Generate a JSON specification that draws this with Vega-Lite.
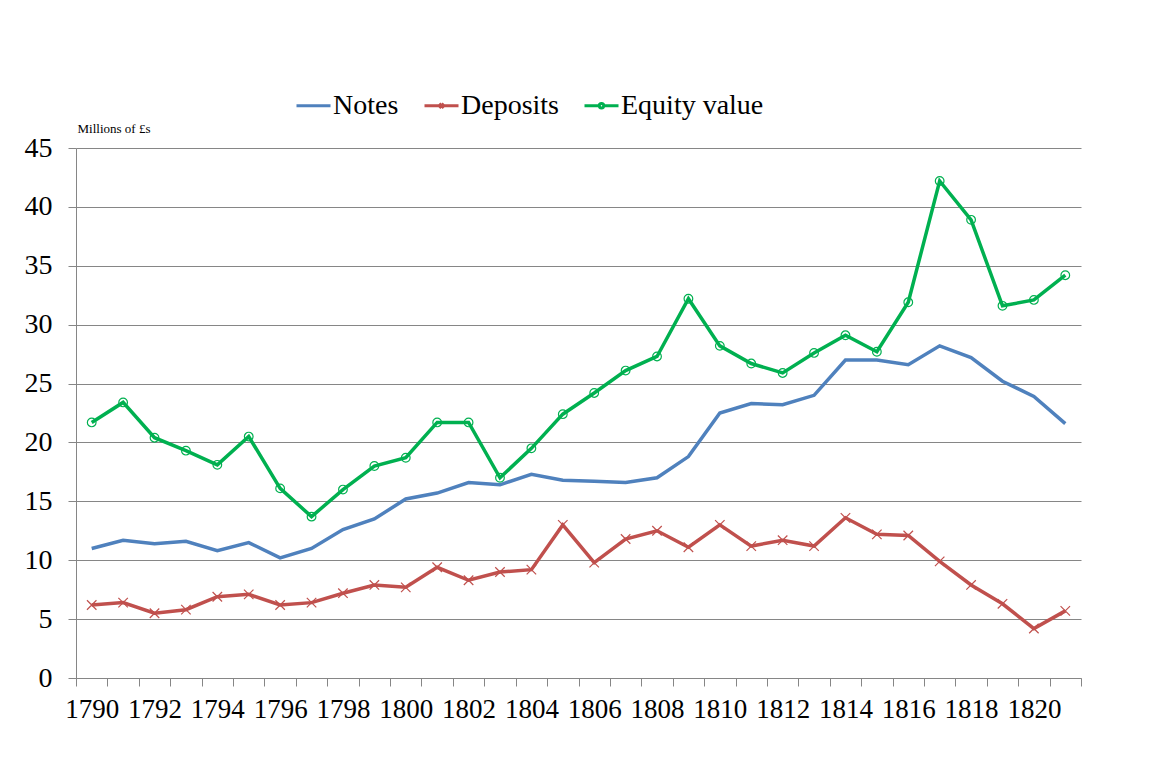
{
  "$schema": "https://vega.github.io/schema/vega-lite/v6.json",
  "width": 1005,
  "height": 530,
  "autosize": {"type": "none"},
  "padding": {"left": 76, "top": 148, "right": 90, "bottom": 87},
  "background": "white",
  "config": {
    "view": {"stroke": null},
    "font": "Liberation Serif"
  },
  "data": {
    "values": [
      {"year": 1790, "Notes": 11.0, "Deposits": 6.2, "Equity value": 21.7},
      {"year": 1791, "Notes": 11.7, "Deposits": 6.4, "Equity value": 23.4},
      {"year": 1792, "Notes": 11.4, "Deposits": 5.5, "Equity value": 20.4},
      {"year": 1793, "Notes": 11.6, "Deposits": 5.8, "Equity value": 19.3},
      {"year": 1794, "Notes": 10.8, "Deposits": 6.9, "Equity value": 18.1},
      {"year": 1795, "Notes": 11.5, "Deposits": 7.1, "Equity value": 20.5},
      {"year": 1796, "Notes": 10.2, "Deposits": 6.2, "Equity value": 16.1},
      {"year": 1797, "Notes": 11.0, "Deposits": 6.4, "Equity value": 13.7},
      {"year": 1798, "Notes": 12.6, "Deposits": 7.2, "Equity value": 16.0},
      {"year": 1799, "Notes": 13.5, "Deposits": 7.9, "Equity value": 18.0},
      {"year": 1800, "Notes": 15.2, "Deposits": 7.7, "Equity value": 18.7},
      {"year": 1801, "Notes": 15.7, "Deposits": 9.4, "Equity value": 21.7},
      {"year": 1802, "Notes": 16.6, "Deposits": 8.3, "Equity value": 21.7},
      {"year": 1803, "Notes": 16.4, "Deposits": 9.0, "Equity value": 17.0},
      {"year": 1804, "Notes": 17.3, "Deposits": 9.2, "Equity value": 19.5},
      {"year": 1805, "Notes": 16.8, "Deposits": 13.0, "Equity value": 22.4},
      {"year": 1806, "Notes": 16.7, "Deposits": 9.8, "Equity value": 24.2},
      {"year": 1807, "Notes": 16.6, "Deposits": 11.8, "Equity value": 26.1},
      {"year": 1808, "Notes": 17.0, "Deposits": 12.5, "Equity value": 27.3},
      {"year": 1809, "Notes": 18.8, "Deposits": 11.1, "Equity value": 32.2},
      {"year": 1810, "Notes": 22.5, "Deposits": 13.0, "Equity value": 28.2},
      {"year": 1811, "Notes": 23.3, "Deposits": 11.2, "Equity value": 26.7},
      {"year": 1812, "Notes": 23.2, "Deposits": 11.7, "Equity value": 25.9},
      {"year": 1813, "Notes": 24.0, "Deposits": 11.2, "Equity value": 27.6},
      {"year": 1814, "Notes": 27.0, "Deposits": 13.6, "Equity value": 29.1},
      {"year": 1815, "Notes": 27.0, "Deposits": 12.2, "Equity value": 27.7},
      {"year": 1816, "Notes": 26.6, "Deposits": 12.1, "Equity value": 31.9},
      {"year": 1817, "Notes": 28.2, "Deposits": 9.9, "Equity value": 42.2},
      {"year": 1818, "Notes": 27.2, "Deposits": 7.9, "Equity value": 38.9},
      {"year": 1819, "Notes": 25.2, "Deposits": 6.3, "Equity value": 31.6},
      {"year": 1820, "Notes": 23.9, "Deposits": 4.2, "Equity value": 32.1},
      {"year": 1821, "Notes": 21.6, "Deposits": 5.7, "Equity value": 34.2}
    ]
  },
  "transform": [
    {"fold": ["Notes", "Deposits", "Equity value"], "as": ["series", "value"]}
  ],
  "encoding": {
    "x": {
      "field": "year",
      "type": "ordinal",
      "bandPosition": 0.5,
      "scale": {"type": "band", "paddingInner": 0, "paddingOuter": 0},
      "axis": {
        "title": null,
        "labelExpr": "datum.value % 2 == 0 ? datum.label : ''",
        "labelAngle": 0,
        "labelOverlap": false,
        "labelFont": "Liberation Serif",
        "labelFontSize": 27,
        "labelColor": "#000000",
        "labelPadding": 10,
        "tickBand": "extent",
        "tickSize": 8,
        "tickColor": "#868686",
        "domainColor": "#868686",
        "grid": false
      }
    },
    "y": {
      "field": "value",
      "type": "quantitative",
      "scale": {"domain": [0, 45], "nice": false},
      "axis": {
        "title": "Millions of £s",
        "titleAngle": 0,
        "titleX": 1,
        "titleY": -20,
        "titleAlign": "left",
        "titleBaseline": "middle",
        "titleFont": "Liberation Serif",
        "titleFontSize": 13,
        "titleFontWeight": "normal",
        "titleColor": "#000000",
        "values": [0, 5, 10, 15, 20, 25, 30, 35, 40, 45],
        "labelFont": "Liberation Serif",
        "labelFontSize": 28,
        "labelColor": "#000000",
        "labelPadding": 16,
        "tickSize": 8,
        "tickColor": "#868686",
        "domainColor": "#868686",
        "grid": true,
        "gridColor": "#868686",
        "gridWidth": 1
      }
    }
  },
  "layer": [
    {
      "transform": [{"filter": "datum.series == 'Notes'"}],
      "mark": {"type": "line", "color": "#4F81BD", "strokeWidth": 3.5}
    },
    {
      "transform": [{"filter": "datum.series == 'Deposits'"}],
      "mark": {"type": "line", "color": "#C0504D", "strokeWidth": 3.5}
    },
    {
      "transform": [{"filter": "datum.series == 'Equity value'"}],
      "mark": {"type": "line", "color": "#00B050", "strokeWidth": 3.5}
    },
    {
      "transform": [{"filter": "datum.series == 'Deposits'"}],
      "mark": {"type": "point", "shape": "M-1,-1L1,1M-1,1L1,-1", "size": 90, "filled": false, "stroke": "#C0504D", "strokeWidth": 1.2, "opacity": 1}
    },
    {
      "transform": [{"filter": "datum.series == 'Equity value'"}],
      "mark": {"type": "point", "shape": "circle", "size": 75, "filled": false, "stroke": "#00B050", "strokeWidth": 1.2, "opacity": 1}
    },
    {
      "transform": [{"filter": "datum.value < 0"}],
      "mark": {"type": "point", "filled": false, "strokeWidth": 3},
      "encoding": {
        "color": {
          "field": "series",
          "type": "nominal",
          "scale": {"domain": ["Notes", "Deposits", "Equity value"], "range": ["#4F81BD", "#C0504D", "#00B050"]},
          "legend": {
            "orient": "none",
            "direction": "horizontal",
            "legendX": 219,
            "legendY": -61,
            "title": null,
            "labelFont": "Liberation Serif",
            "labelFontSize": 28,
            "labelColor": "#000000",
            "labelOffset": 1,
            "columnPadding": 19,
            "symbolSize": 1156,
            "symbolStrokeWidth": 3,
            "symbolFillColor": "transparent",
            "symbolOpacity": 1,
            "padding": 0,
            "labelLimit": 400
          }
        },
        "shape": {
          "field": "series",
          "type": "nominal",
          "scale": {
            "domain": ["Notes", "Deposits", "Equity value"],
            "range": [
              "M-1,0H1",
              "M-1,0H1M-0.13,-0.13L0.13,0.13M-0.13,0.13L0.13,-0.13",
              "M-1,0H-0.13M0.13,0H1M-0.13,0A0.13,0.13 0 1,1 0.13,0A0.13,0.13 0 1,1 -0.13,0"
            ]
          },
          "legend": {
            "orient": "none",
            "direction": "horizontal",
            "legendX": 219,
            "legendY": -61,
            "title": null,
            "labelFont": "Liberation Serif",
            "labelFontSize": 28,
            "labelColor": "#000000",
            "labelOffset": 1,
            "columnPadding": 19,
            "symbolSize": 1156,
            "symbolStrokeWidth": 3,
            "symbolFillColor": "transparent",
            "symbolOpacity": 1,
            "padding": 0,
            "labelLimit": 400
          }
        }
      }
    }
  ]
}
